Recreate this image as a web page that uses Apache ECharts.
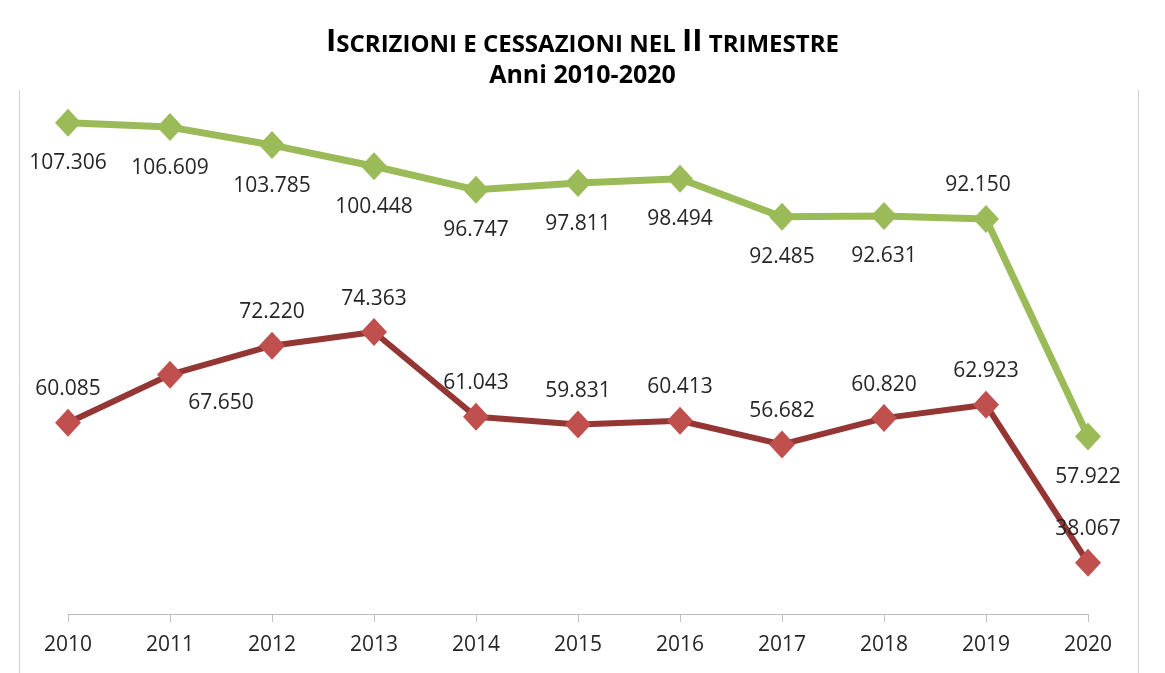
<!DOCTYPE html>
<html><head><meta charset="utf-8">
<script src="https://cdn.jsdelivr.net/npm/echarts@6/dist/echarts.min.js"></script>
<style>html,body{margin:0;padding:0;background:#fff}#c{width:1165px;height:673px}</style>
</head><body><div id="c"></div>
<script>
const categories = ['2010','2011','2012','2013','2014','2015','2016','2017','2018','2019','2020'];
const iscrizioni = [107306, 106609, 103785, 100448, 96747, 97811, 98494, 92485, 92631, 92150, 57922];
const cessazioni = [60085, 67650, 72220, 74363, 61043, 59831, 60413, 56682, 60820, 62923, 38067];

const fmt = v => (v / 1000).toFixed(3);
const chart = echarts.init(document.getElementById('c'));
const F = 'Open Sans';
const labelBase = {show: true, fontFamily: F, fontSize: 21, color: '#262626', formatter: p => fmt(p.value)};

const greenData = iscrizioni.map((v, i) => {
  const o = {value: v};
  if (i === 9) o.label = {position: 'top', distance: 9, offset: [-8, 0]};
  return o;
});
const redData = cessazioni.map((v, i) => {
  const o = {value: v};
  if (i === 1) o.label = {position: 'bottom', distance: 12, offset: [51, -8]};
  return o;
});

chart.setOption({
  animation: false,
  title: [
    {
      left: 'center', top: 22,
      text: '{b|I}{s|SCRIZIONI E CESSAZIONI NEL }{b|II}{s| TRIMESTRE}',
      textStyle: {rich: {
        b: {fontFamily: F, fontWeight: 'bold', fontSize: 31, color: '#000'},
        s: {fontFamily: F, fontWeight: 'bold', fontSize: 24, color: '#000', verticalAlign: 'bottom', padding: [0,0,1,0]}
      }}
    },
    {
      left: 'center', top: 58,
      text: 'Anni 2010-2020',
      textStyle: {fontFamily: F, fontWeight: 'bold', fontSize: 25, color: '#000'}
    }
  ],
  graphic: [
    {type: 'line', shape: {x1: 19.5, y1: 90, x2: 19.5, y2: 673}, style: {stroke: '#d0d0d0', lineWidth: 1}},
    {type: 'line', shape: {x1: 1138.5, y1: 90, x2: 1138.5, y2: 673}, style: {stroke: '#d0d0d0', lineWidth: 1}}
  ],
  grid: {left: 68, right: 77, top: 42, bottom: 59, containLabel: false},
  xAxis: {
    type: 'category', data: categories, boundaryGap: false,
    axisLine: {lineStyle: {color: '#bfbfbf', width: 1}},
    axisTick: {show: true, alignWithLabel: true, length: 8, lineStyle: {color: '#bfbfbf'}},
    axisLabel: {fontFamily: F, fontSize: 21, color: '#262626', margin: 21}
  },
  yAxis: {
    type: 'value', min: 30000, max: 120000, interval: 10000,
    axisLine: {show: false}, axisTick: {show: false}, axisLabel: {show: false}, splitLine: {show: false}
  },
  series: [
    {
      name: 'Iscrizioni', type: 'line', data: greenData,
      symbol: 'diamond', symbolSize: [26, 28],
      lineStyle: {color: '#9BBB59', width: 7},
      itemStyle: {color: '#9BBB59'},
      label: Object.assign({}, labelBase, {position: 'bottom', distance: 16})
    },
    {
      name: 'Cessazioni', type: 'line', data: redData,
      symbol: 'diamond', symbolSize: [26, 28],
      lineStyle: {color: '#943634', width: 6},
      itemStyle: {color: '#C0504D'},
      label: Object.assign({}, labelBase, {position: 'top', distance: 9})
    }
  ]
});
</script></body></html>
